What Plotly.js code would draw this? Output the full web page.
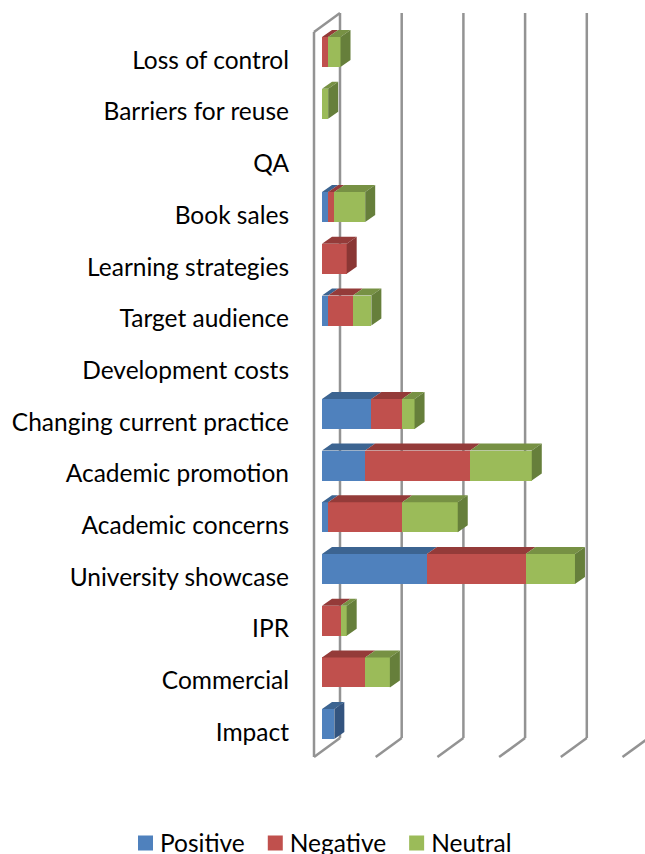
<!DOCTYPE html>
<html>
<head>
<meta charset="utf-8">
<script src="https://cdn.plot.ly/plotly-3.0.1.min.js"></script>
<style>html,body{margin:0;padding:0;background:#fff}#chart{width:645px;height:854px}</style>
</head>
<body>
<div id="chart"></div>
<script>
var categories = ["Impact","Commercial","IPR","University showcase","Academic concerns","Academic promotion","Changing current practice","Development costs","Target audience","Learning strategies","Book sales","QA","Barriers for reuse","Loss of control"];
var positive = [2,0,0,17,1,7,8,0,1,0,1,0,0,0];
var negative = [0,7,3,16,12,17,5,0,4,4,1,0,0,1];
var neutral  = [0,4,1,8,9,10,2,0,3,0,5,0,1,2];
var gridValues = [0,10,20,30,40,50];

var W=645,H=854,mL=290,mB=84;
var pxX=6.17, pxY=51.7, x0Px=322, yTopCenter=52;
var plotBottom=H-mB;
var xRange=[(mL-x0Px)/pxX,(W-x0Px)/pxX];
var yRange=[(yTopCenter+13*pxY-plotBottom)/pxY+0, 13+yTopCenter/pxY];
function ux(p){return p/pxX;}
function uy(p){return p/pxY;}
var barW=uy(30), dx=ux(10), dy=uy(7), labelDrop=uy(8.2);

var series=[
 {name:"Positive",v:positive,face:"#4F81BD",top:"#3C6491",side:"#33547F"},
 {name:"Negative",v:negative,face:"#C0504D",top:"#943B39",side:"#8A3634"},
 {name:"Neutral", v:neutral, face:"#9BBB59",top:"#779144",side:"#667F3B"}
];
var traces=[];
series.forEach(function(s){
  traces.push({type:"bar",orientation:"h",name:s.name,y:categories.map(function(c,i){return i;}),x:s.v,width:barW,
    marker:{color:s.face,line:{width:0}},hoverinfo:"x+name"});
});
var stack=categories.map(function(){return 0;});
var total=categories.map(function(c,i){return positive[i]+negative[i]+neutral[i];});
series.forEach(function(s){
  var tx=[],ty=[],sx=[],sy=[];
  s.v.forEach(function(v,i){
    if(!v)return;
    var a=stack[i],b=a+v,t=i+barW/2,bt=i-barW/2;
    tx.push(a,b,b+dx,a+dx,a,null); ty.push(t,t,t+dy,t+dy,t,null);
    if(b===total[i]){ sx.push(b,b+dx,b+dx,b,b,null); sy.push(bt,bt+dy,t+dy,t,bt,null); }
    stack[i]=b;
  });
  traces.push({type:"scatter",mode:"lines",x:tx,y:ty,fill:"toself",fillcolor:s.top,line:{width:0},showlegend:false,hoverinfo:"skip"});
  traces.push({type:"scatter",mode:"lines",x:sx,y:sy,fill:"toself",fillcolor:s.side,line:{width:0},showlegend:false,hoverinfo:"skip"});
});

var wallBack=ux(18), wallFront=ux(-8);
var yWallTop=13+uy(yTopCenter-13), yWallBottom=uy(724-738), yFloorFront=uy(724-757), yWallFrontTop=13+uy(yTopCenter-32);
var gridLine={color:"#939393",width:2.5};
var shapes=[];
function seg(x1,y1,x2,y2){shapes.push({type:"line",layer:"below",xref:"x",yref:"y",x0:x1,y0:y1,x1:x2,y1:y2,line:gridLine});}
gridValues.forEach(function(g){
  seg(g+wallBack,yWallTop,g+wallBack,yWallBottom);
  seg(g+wallBack,yWallBottom,g+wallFront,yFloorFront);
});
seg(wallFront,yFloorFront,wallFront,yWallFrontTop);
seg(wallFront,yWallFrontTop,wallBack,yWallTop);

var font={family:"Lato, Carlito, Calibri, sans-serif",size:24.5,color:"#000"};
var legendFont={family:font.family,size:24.5,color:"#000"};
var layout={
  width:W,height:H,margin:{l:mL,r:0,t:0,b:mB,autoexpand:false},
  paper_bgcolor:"#fff",plot_bgcolor:"#fff",barmode:"stack",bargap:0,font:font,showlegend:true,
  xaxis:{range:xRange,visible:false,fixedrange:true},
  yaxis:{range:yRange,tickmode:"array",tickvals:categories.map(function(c,i){return i-labelDrop;}),ticktext:categories,
    showgrid:false,zeroline:false,showline:false,ticks:"",fixedrange:true,automargin:false,tickfont:font},
  legend:{orientation:"h",x:(120-mL)/(W-mL),xanchor:"left",y:-(843-plotBottom)/plotBottom,yanchor:"middle",font:legendFont,bgcolor:"rgba(0,0,0,0)",traceorder:"normal"},
  shapes:shapes
};
Plotly.newPlot("chart",traces,layout,{displayModeBar:false,staticPlot:true}).then(function(){
  document.querySelectorAll(".legend .legendpoints path").forEach(function(p){
    p.setAttribute("d","M13,7.5H-2V-7.5H13Z");
  });
});
</script>
</body>
</html>
